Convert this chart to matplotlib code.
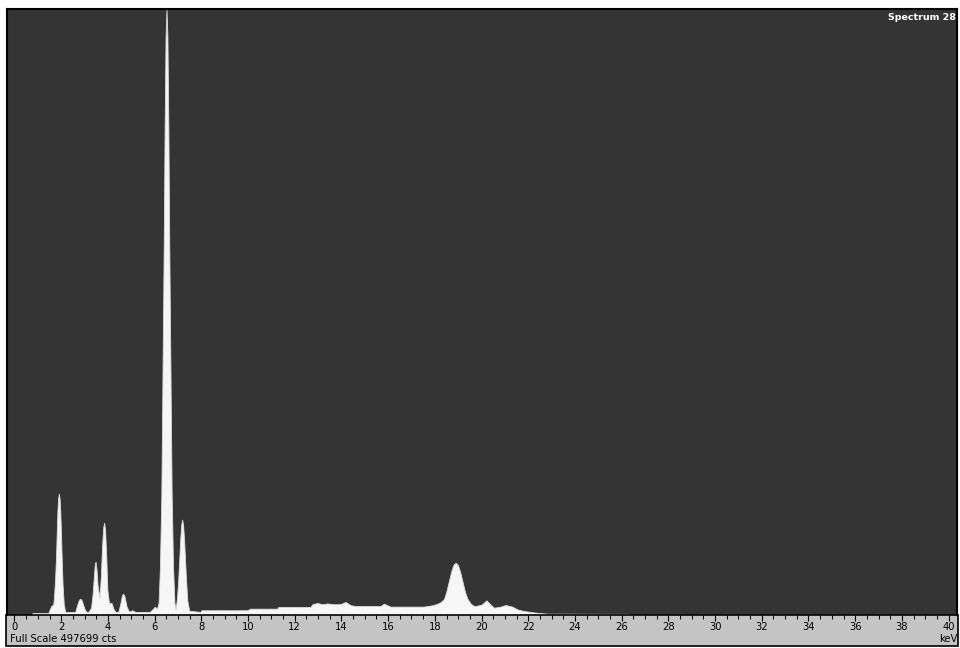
"""EDS spectrum plot (Spectrum 28) recreated with matplotlib."""

import matplotlib

matplotlib.use("Agg")

import matplotlib.pyplot as plt  # noqa: E402
from matplotlib.patches import Rectangle  # noqa: E402
from matplotlib.ticker import FormatStrFormatter, MultipleLocator  # noqa: E402

SPECTRUM_NAME = "Spectrum 28"
FULL_SCALE = 497699  # cts

# outline of the spectrum (keV, counts)
energy_kev = [
    -0.32, 0.75, 0.77, 1.45, 1.52, 1.58, 1.66, 1.69, 1.74, 1.78, 1.81, 1.84,
    1.87, 1.90, 1.93, 1.96, 1.99, 2.02, 2.06, 2.11, 2.17, 2.60, 2.68, 2.76,
    2.82, 2.87, 2.93, 3.00, 3.08, 3.17, 3.28, 3.35, 3.40, 3.44, 3.47, 3.51,
    3.56, 3.64, 3.70, 3.75, 3.80, 3.84, 3.88, 3.93, 3.98, 4.05, 4.15, 4.24,
    4.33, 4.45, 4.53, 4.60, 4.65, 4.71, 4.80, 4.90, 4.98, 5.05, 5.12, 5.20,
    5.80, 5.90, 6.01, 6.10, 6.17, 6.23, 6.29, 6.34, 6.39, 6.43, 6.47, 6.51,
    6.55, 6.59, 6.63, 6.68, 6.73, 6.79, 6.85, 6.90, 6.96, 7.01, 7.06, 7.10,
    7.14, 7.18, 7.22, 7.26, 7.30, 7.35, 7.40, 7.48, 7.97, 8.00, 9.97, 10.10,
    11.25, 11.30, 12.68, 12.75, 12.96, 13.20, 13.39, 13.70, 13.96, 14.18,
    14.40, 14.60, 15.67, 15.82, 16.10, 17.53, 17.90, 18.10, 18.24, 18.39,
    18.49, 18.59, 18.69, 18.79, 18.89, 18.99, 19.09, 19.19, 19.29, 19.39,
    19.55, 19.70, 20.00, 20.21, 20.40, 20.53, 20.80, 21.03, 21.30, 21.55,
    21.81, 22.30, 22.81, 26.30, 26.35, 40.36,
]
counts = [
    0, 0, 1600, 1700, 5000, 7500, 8500, 14000, 30000, 48000, 68000, 86000,
    96000, 99600, 96000, 86000, 68000, 48000, 25000, 9000, 2500, 2500, 8000,
    12500, 13400, 12400, 9000, 5000, 2600, 2600, 6000, 18000, 32000, 41500,
    43800, 38000, 24000, 14500, 32000, 56000, 72000, 75800, 70000, 48000,
    20000, 9500, 10100, 5000, 2500, 2700, 9000, 16000, 17500, 15500, 7000,
    3000, 3200, 3900, 3000, 2500, 2600, 4500, 6800, 5000, 10000, 40000,
    100000, 200000, 300000, 400000, 475000, 497699, 475000, 400000, 300000,
    200000, 100000, 40000, 10000, 4500, 14000, 28000, 47000, 63000, 74000,
    78300, 74000, 63000, 47000, 28000, 12000, 3500, 2500, 3900, 3900, 5200,
    5200, 6600, 6600, 8800, 9900, 8800, 9500, 8800, 9000, 10700, 8000, 7400,
    7400, 9300, 6900, 6900, 8000, 9200, 10500, 13000, 19000, 27000, 35000,
    41000, 43000, 41000, 35000, 27000, 19000, 13500, 9000, 7200, 8500, 12000,
    8200, 6000, 6800, 8200, 7000, 4500, 3300, 2000, 1100, 900, 250, 250,
]

W, H = 960, 648
BG = "#343434"
PANEL = "#c4c4c4"
FILL = "#f6f6f6"
FS = 7.2

fig = plt.figure(figsize=(W / 100, H / 100), dpi=100, facecolor="white")

# grey scale panel below the plot area
fig.patches.append(Rectangle((6 / W, 2 / H), 952 / W, 31 / H,
                             transform=fig.transFigure, facecolor=PANEL,
                             edgecolor="black", linewidth=1.2, zorder=-5))

ax = fig.add_axes([7 / W, 33 / H, 950 / W, 606 / H])
ax.set_zorder(2)
ax.set_facecolor(BG)
ax.fill_between(energy_kev, 0, counts, color=FILL, linewidth=0.6,
                edgecolor="#dcdcdc")
ax.set_xlim(-0.32, 40.36)
ax.set_ylim(0, FULL_SCALE * 1.0005)

for side in ("top", "left", "right"):
    ax.spines[side].set_color("black")
    ax.spines[side].set_linewidth(1.5)
ax.spines["bottom"].set_color("black")
ax.spines["bottom"].set_linewidth(1.2)

ax.set_yticks([])
ax.xaxis.set_major_locator(MultipleLocator(2))
ax.xaxis.set_minor_locator(MultipleLocator(0.5))
ax.tick_params(axis="x", which="major", direction="out", length=4, width=0.8,
               color="black", labelsize=FS, pad=1.2, labelcolor="black")
ax.tick_params(axis="x", which="minor", direction="out", length=3, width=0.7,
               color="black")
ax.xaxis.set_major_formatter(FormatStrFormatter("%d"))

ax.text(0.999, 0.993, SPECTRUM_NAME, transform=ax.transAxes, ha="right",
        va="top", color="white", fontsize=6.8, fontweight="bold")
fig.text(10 / W, 1 - 639 / H, f"Full Scale {FULL_SCALE} cts", ha="left",
         va="center", fontsize=FS, color="black", zorder=5)
fig.text(957 / W, 1 - 639 / H, "keV", ha="right", va="center", fontsize=FS,
         color="black", zorder=5)

fig.savefig("out.png", dpi=100, facecolor="white")
plt.close(fig)
